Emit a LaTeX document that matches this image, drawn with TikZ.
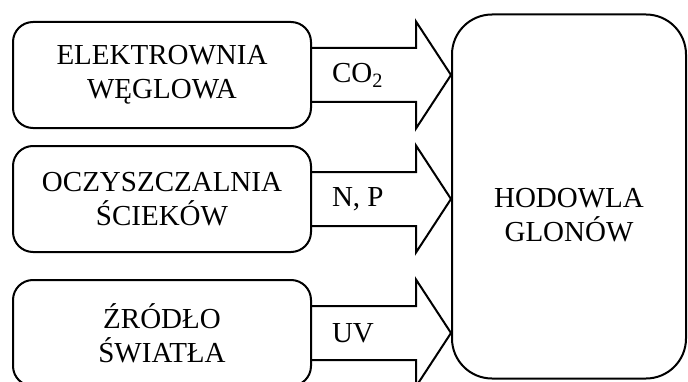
\documentclass[tikz,border=0pt]{standalone}
\usepackage{fontspec}
\setmainfont{Liberation Serif}
\usetikzlibrary{positioning}

\begin{document}
\begin{tikzpicture}[line width=2pt, font=\fontsize{29}{34}\selectfont,
    srcbox/.style={rectangle, draw, rounded corners=20pt, minimum width=298pt, minimum height=106pt, align=center},
    tag/.style={inner sep=0pt, outer sep=0pt, anchor=west}]
    \useasboundingbox (0,0) rectangle (688pt,381pt);

    \node[srcbox] (ele) at (162pt,306pt) {ELEKTROWNIA\\WĘGLOWA};
    \node[srcbox, below=16pt of ele] (ocz) {OCZYSZCZALNIA\\ŚCIEKÓW};
    \node[srcbox, below=26pt of ocz] (zro) {ŹRÓDŁO\\ŚWIATŁA};

    \node[rectangle, draw, rounded corners=40pt, minimum width=234pt, minimum height=364pt,
        right=139pt of ocz, yshift=2.5pt] (hod) {};
    \node[align=center] (hodtxt) at ([yshift=-18.5pt]hod.center) {HODOWLA\\GLONÓW};

    % arrow tips on the left side of the big box
    \coordinate (t1) at (hod.west |- ele.east);
    \coordinate (t2) at (hod.west |- ocz.east);
    \coordinate (t3) at (hod.west |- zro.east);

    \draw ([yshift=27pt]ele.east) -| ([xshift=-35pt,yshift=53.5pt]t1) -- (t1)
        -- ([xshift=-35pt,yshift=-53.5pt]t1) |- ([yshift=-27pt]ele.east);
    \draw ([yshift=27pt]ocz.east) -| ([xshift=-35pt,yshift=53.5pt]t2) -- (t2)
        -- ([xshift=-35pt,yshift=-53.5pt]t2) |- ([yshift=-27pt]ocz.east);
    \draw ([yshift=27pt]zro.east) -| ([xshift=-35pt,yshift=53.5pt]t3) -- (t3)
        -- ([xshift=-35pt,yshift=-53.5pt]t3) |- ([yshift=-27pt]zro.east);

    \node[tag, right=20pt of ele] (co2) {CO\textsubscript{2}};
    \node[tag, right=20pt of ocz] (np) {N, P};
    \node[tag, right=20pt of zro] (uv) {UV};
\end{tikzpicture}
\end{document}
